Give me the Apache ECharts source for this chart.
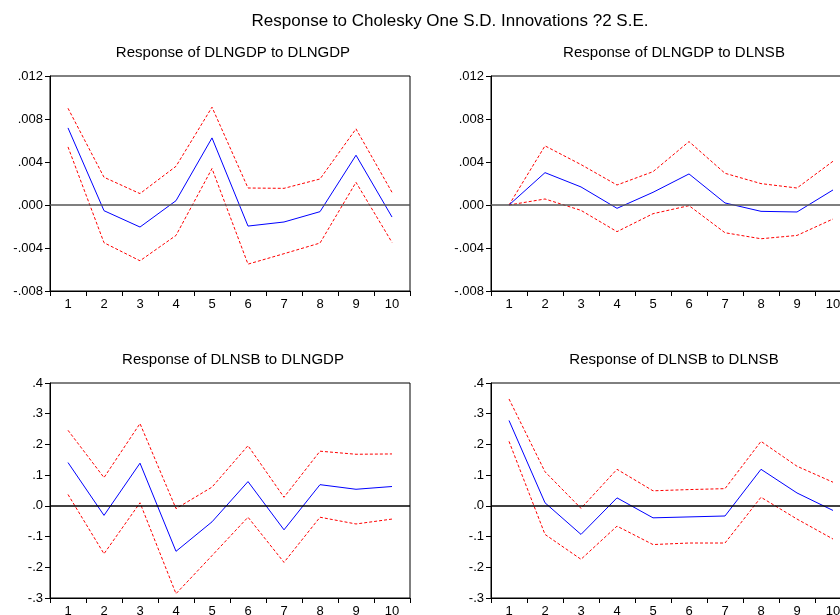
<!DOCTYPE html>
<html>
<head>
<meta charset="utf-8">
<script src="https://cdn.jsdelivr.net/npm/echarts@6/dist/echarts.min.js"></script>
<style>
  html, body { margin: 0; padding: 0; background: #fff; }
  #chart { width: 840px; height: 615px; }
</style>
</head>
<body>
<div id="chart"></div>
<script>
// periods
var periods = ['1', '2', '3', '4', '5', '6', '7', '8', '9', '10'];

// panel titles
var mainTitle = 'Response to Cholesky One S.D. Innovations ?2 S.E.';
var panelTitles = [
  'Response of DLNGDP to DLNGDP',
  'Response of DLNGDP to DLNSB',
  'Response of DLNSB to DLNGDP',
  'Response of DLNSB to DLNSB'
];

// DLNGDP to DLNGDP
var gdpGdp = [0.00717, -0.00053, -0.00205, 0.0004, 0.00624, -0.00196, -0.00158, -0.00062, 0.00463, -0.00112];
var gdpGdpHi = [0.0090, 0.00258, 0.00106, 0.0036, 0.0091, 0.00158, 0.00155, 0.00242, 0.00708, 0.00118];
var gdpGdpLo = [0.0054, -0.00351, -0.00519, -0.00283, 0.00339, -0.0055, -0.00453, -0.00354, 0.00211, -0.00348];

// DLNGDP to DLNSB
var gdpSb = [0, 0.00301, 0.00168, -0.00031, 0.00118, 0.00289, 0.00019, -0.00059, -0.00065, 0.0014];
var gdpSbHi = [0, 0.0055, 0.00376, 0.00186, 0.0031, 0.0059, 0.00295, 0.00199, 0.00158, 0.00407];
var gdpSbLo = [0, 0.00056, -0.0005, -0.00248, -0.00081, -0.00006, -0.00258, -0.00314, -0.00283, -0.0013];

// DLNSB to DLNGDP
var sbGdp = [0.141, -0.031, 0.139, -0.148, -0.052, 0.079, -0.078, 0.069, 0.054, 0.063];
var sbGdpHi = [0.246, 0.092, 0.268, -0.009, 0.061, 0.196, 0.028, 0.178, 0.168, 0.169];
var sbGdpLo = [0.037, -0.156, 0.010, -0.286, -0.162, -0.037, -0.184, -0.037, -0.059, -0.043];

// DLNSB to DLNSB
var sbSb = [0.278, 0.010, -0.093, 0.026, -0.039, -0.036, -0.033, 0.119, 0.042, -0.015];
var sbSbHi = [0.348, 0.111, -0.008, 0.119, 0.049, 0.053, 0.056, 0.210, 0.129, 0.077];
var sbSbLo = [0.210, -0.093, -0.174, -0.066, -0.126, -0.121, -0.121, 0.028, -0.043, -0.108];

// y axis ranges
var topRange = { min: -0.008, max: 0.012, interval: 0.004, digits: 3 };
var botRange = { min: -0.3, max: 0.4, interval: 0.1, digits: 1 };

var panels = [
  { mid: gdpGdp, hi: gdpGdpHi, lo: gdpGdpLo, range: topRange, zero: '#555' },
  { mid: gdpSb, hi: gdpSbHi, lo: gdpSbLo, range: topRange, zero: '#555' },
  { mid: sbGdp, hi: sbGdpHi, lo: sbGdpLo, range: botRange, zero: '#000' },
  { mid: sbSb, hi: sbSbHi, lo: sbSbLo, range: botRange, zero: '#000' }
];

var gridPos = [
  { left: 50, top: 76 },
  { left: 491, top: 76 },
  { left: 50, top: 383 },
  { left: 491, top: 383 }
];

function fmt(digits) {
  return function (v) {
    var s = v.toFixed(digits);
    return s.replace('0.', '.');
  };
}

var font = 'Liberation Sans, Arial, sans-serif';
var grids = [], xAxes = [], yAxes = [], series = [], titles = [];

titles.push({
  text: mainTitle, left: 445, top: 8, textAlign: 'center',
  textStyle: { fontFamily: font, fontSize: 17, fontWeight: 'normal', color: '#000' }
});

panels.forEach(function (p, i) {
  var g = gridPos[i];
  grids.push({
    left: g.left, top: g.top, width: 360, height: 215,
    outerBoundsMode: 'none', containLabel: false,
    show: true, borderColor: '#000', borderWidth: 1, backgroundColor: 'transparent'
  });
  titles.push({
    text: panelTitles[i], left: g.left + 178, top: g.top - 36, textAlign: 'center',
    textStyle: { fontFamily: font, fontSize: 15, fontWeight: 'normal', color: '#000' }
  });
  xAxes.push({
    type: 'category', gridIndex: i, data: periods, boundaryGap: true,
    axisLine: { onZero: false, lineStyle: { color: '#000', width: 1 } },
    axisTick: { show: true, length: 5, lineStyle: { color: '#000' } },
    axisLabel: { interval: 0, color: '#000', fontFamily: font, fontSize: 13, margin: 7 },
    splitLine: { show: false }
  });
  yAxes.push({
    type: 'value', gridIndex: i,
    min: p.range.min, max: p.range.max, interval: p.range.interval,
    axisLine: { show: true, lineStyle: { color: '#000', width: 1 } },
    axisTick: { show: true, length: 5, lineStyle: { color: '#000' } },
    axisLabel: { color: '#000', fontFamily: font, fontSize: 13, margin: 7, formatter: fmt(p.range.digits) },
    splitLine: { show: false }
  });
  series.push({
    type: 'line', xAxisIndex: i, yAxisIndex: i, data: p.hi,
    symbol: 'none', silent: true,
    lineStyle: { color: '#ff0000', width: 1, type: [3, 2] }
  });
  series.push({
    type: 'line', xAxisIndex: i, yAxisIndex: i, data: p.lo,
    symbol: 'none', silent: true,
    lineStyle: { color: '#ff0000', width: 1, type: [3, 2] }
  });
  series.push({
    type: 'line', xAxisIndex: i, yAxisIndex: i, data: p.mid,
    symbol: 'none', silent: true, z: 3,
    lineStyle: { color: '#0000ff', width: 1 },
    markLine: {
      silent: true, symbol: 'none', label: { show: false },
      lineStyle: { color: p.zero, width: 1.5, type: 'solid' },
      data: [{ yAxis: 0 }]
    }
  });
});

var chart = echarts.init(document.getElementById('chart'));
chart.setOption({
  animation: false,
  backgroundColor: '#fff',
  title: titles,
  grid: grids,
  xAxis: xAxes,
  yAxis: yAxes,
  series: series
});
</script>
</body>
</html>
